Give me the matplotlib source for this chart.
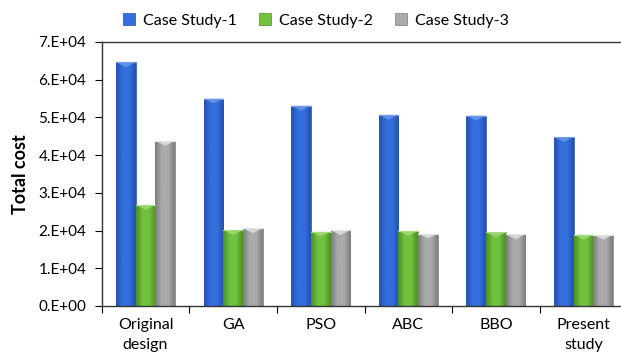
import numpy as np
import matplotlib
matplotlib.use('Agg')
from matplotlib import pyplot as plt
from matplotlib.patches import Polygon
from matplotlib.colors import LinearSegmentedColormap

plt.rcParams['font.family'] = ['Lato', 'DejaVu Sans']

metodos = ['Original\ndesign', 'GA', 'PSO', 'ABC', 'BBO', 'Present\nstudy']
caso_1 = [64600, 55000, 53100, 50700, 50500, 44800]
caso_2 = [26800, 20100, 19700, 19900, 19500, 18900]
caso_3 = [43800, 20600, 20100, 19200, 19000, 18900]
legendas = ['Case Study-1', 'Case Study-2', 'Case Study-3']
ticks_y = [0, 10000, 20000, 30000, 40000, 50000, 60000, 70000]
rotulos_y = ['0.E+00', '1.E+04', '2.E+04', '3.E+04', '4.E+04', '5.E+04', '6.E+04', '7.E+04']

# cor da borda, cor do centro, cor do chanfro no topo
cores = [('#2450B0', '#3370DC', '#6F9BEA'),
         ('#4A8F26', '#71C23F', '#A6DC7E'),
         ('#7C7C7C', '#ABABAB', '#E6E6E6')]

fig = plt.figure(figsize=(6.21, 3.62), dpi=100)
ax = fig.add_axes([0.1638, 0.1547, 0.8464, 0.7293])

x = np.arange(len(metodos))
largura = 0.225


def pintar_barras(barras, borda, centro, chanfro):
    cmap = LinearSegmentedColormap.from_list('g', [borda, centro, centro, borda])
    grad = np.linspace(0, 1, 64).reshape(1, -1)
    for b in barras:
        x0, y0 = b.get_x(), b.get_y()
        w, h = b.get_width(), b.get_height()
        im = ax.imshow(grad, cmap=cmap, aspect='auto', extent=[x0, x0 + w, y0, y0 + h],
                       zorder=2, interpolation='bicubic')
        im.set_clip_path(b)
        # pequeno triangulo claro no topo da barra
        dy = 1300
        tri = Polygon([[x0, y0 + h], [x0 + w, y0 + h], [x0 + w / 2, y0 + h - dy]],
                      closed=True, facecolor=chanfro, edgecolor='none', alpha=0.75, zorder=3)
        ax.add_patch(tri)
        ax.plot([x0, x0 + w], [y0 + h, y0 + h], color=chanfro, lw=0.8, zorder=3)


series = [caso_1, caso_2, caso_3]
alcas = []
for i, (valores, cor) in enumerate(zip(series, cores)):
    barras = ax.bar(x + (i - 1) * largura, valores, largura, color=cor[1],
                    edgecolor=cor[0], linewidth=0.5, zorder=2, label=legendas[i])
    pintar_barras(barras, *cor)
    alcas.append(barras)

ax.set_xlim(-0.5, len(metodos) - 0.5)
ax.set_ylim(0, 70000)
ax.set_yticks(ticks_y)
ax.set_yticklabels(rotulos_y, fontsize=11)
ax.set_xticks(x)
ax.set_xticklabels(metodos, fontsize=11.5, linespacing=1.5)
ax.set_xticks(np.arange(len(metodos) + 1) - 0.5, minor=True)
ax.tick_params(axis='x', which='major', length=0, pad=9)
ax.tick_params(axis='x', which='minor', length=5, direction='out', width=0.8)
ax.tick_params(axis='y', length=5, direction='out', width=0.8, pad=6)
for s in ax.spines.values():
    s.set_linewidth(1.0)
    s.set_color('#333333')

ax.set_ylabel('Total cost', fontsize=13, fontweight='bold', labelpad=7)

fig.legend(handles=alcas, labels=legendas, loc='center', bbox_to_anchor=(0.509, 0.943),
           ncol=3, frameon=False, fontsize=11.5, handlelength=0.75, handleheight=0.75,
           handletextpad=0.5, columnspacing=1.4)

fig.savefig('out.png', dpi=100)
